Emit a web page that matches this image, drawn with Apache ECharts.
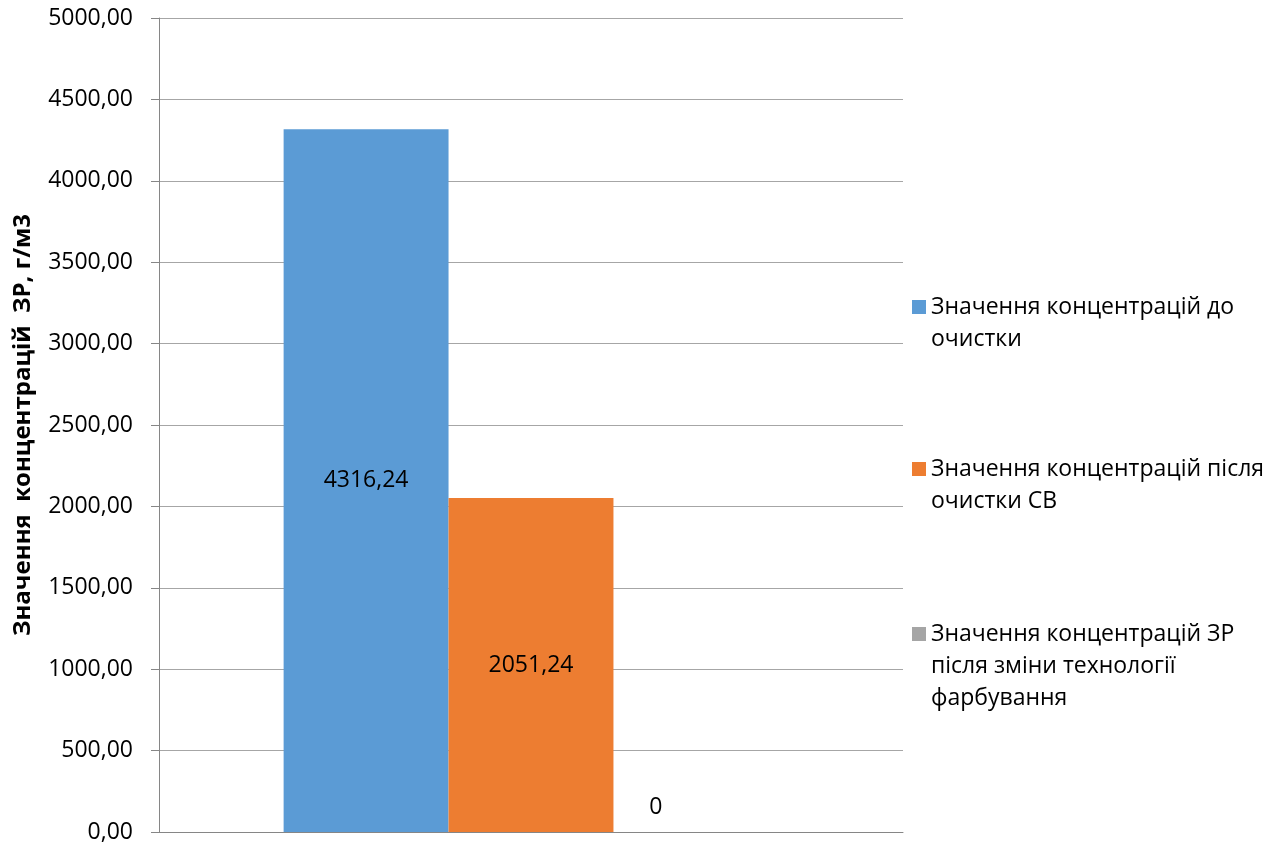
<!DOCTYPE html>
<html>
<head>
<meta charset="utf-8">
<script src="https://cdn.jsdelivr.net/npm/echarts@6/dist/echarts.min.js"></script>
<style>html,body{margin:0;padding:0;background:#fff}#c{width:1276px;height:844px}</style>
</head>
<body>
<div id="c"></div>
<script>
const categories = [''];
const seriesNames = [
  'Значення концентрацій до\nочистки',
  'Значення концентрацій після\nочистки СВ',
  'Значення концентрацій ЗР\nпісля зміни технології\nфарбування'
];
const beforeCleaning = [4316.24];
const afterCleaning = [2051.24];
const afterTechChange = [0];
const yTicks = { min: 0, max: 5000, interval: 500 };
const yAxisTitle = 'Значення  концентрацій  ЗР, г/м3';

const FONT = 'Open Sans';
const colors = ['#5B9BD5', '#ED7D31', '#A5A5A5'];
const fmt = v => v.toFixed(2).replace('.', ',');

const chart = echarts.init(document.getElementById('c'));
const LH = 32;
const legendTops = [259, 421, 554];
const legends = seriesNames.map((n, i) => {
  const lines = n.split('\n').length;
  return {
    orient: 'vertical', left: 912, top: legendTops[i], padding: 0,
    itemWidth: 14, itemHeight: 14, itemGap: 5,
    data: [{ name: n, icon: 'rect' }],
    // prepend empty lines so the first text line sits level with the icon
    formatter: s => '\n'.repeat(lines - 1) + s,
    textStyle: { fontFamily: FONT, fontSize: 23, color: '#000', lineHeight: LH },
    selectedMode: false
  };
});
const mkLabel = (pos, dist, offset) => ({
  show: true, position: pos, distance: dist, offset: offset || [0, 0],
  fontFamily: FONT, fontSize: 23, color: '#000',
  formatter: p => String(p.value).replace('.', ',')
});
chart.setOption({
  animation: false,
  backgroundColor: '#fff',
  legend: legends,
  grid: { left: 159, right: 373, top: 18, bottom: 12, containLabel: false },
  xAxis: {
    type: 'category', data: categories,
    axisLine: { lineStyle: { color: '#868686', width: 1 } },
    axisTick: { show: false }, axisLabel: { show: false }
  },
  yAxis: {
    type: 'value', min: yTicks.min, max: yTicks.max, interval: yTicks.interval,
    name: yAxisTitle, nameLocation: 'middle', nameGap: 124,
    nameTextStyle: { fontFamily: FONT, fontSize: 24, fontWeight: 'bold', color: '#000' },
    axisLine: { show: true, lineStyle: { color: '#868686' } },
    axisTick: { show: true, length: 8, lineStyle: { color: '#868686' } },
    splitLine: { lineStyle: { color: '#a6a6a6' } },
    axisLabel: { fontFamily: FONT, fontSize: 23, color: '#000', margin: 26, formatter: fmt }
  },
  series: [
    { name: seriesNames[0], type: 'bar', data: beforeCleaning, barGap: '0%', barCategoryGap: '33.5%',
      itemStyle: { color: colors[0] }, label: mkLabel('inside', 0) },
    { name: seriesNames[1], type: 'bar', data: afterCleaning, barGap: '0%', barCategoryGap: '33.5%',
      itemStyle: { color: colors[1] }, label: mkLabel('inside', 0) },
    { name: seriesNames[2], type: 'bar', data: afterTechChange, barGap: '0%', barCategoryGap: '33.5%',
      itemStyle: { color: colors[2] }, label: mkLabel('top', 13, [-40, 0]) }
  ]
});
</script>
</body>
</html>
